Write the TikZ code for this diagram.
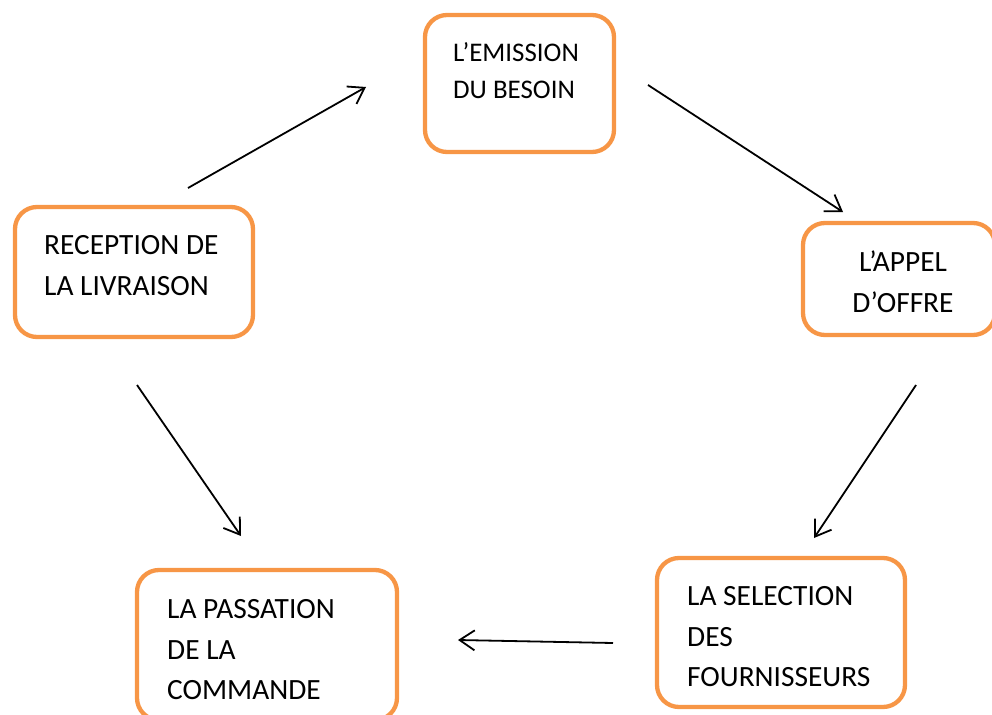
\documentclass[tikz,border=0pt]{standalone}
\usepackage{fontspec}
\setmainfont{Carlito}
\usetikzlibrary{arrows.meta}
\definecolor{boxorange}{HTML}{F79646}
\tikzset{
  stepbox/.style={draw=boxorange, line width=4.3bp, rounded corners=22bp, fill=white, inner sep=0pt},
  boxtext/.style={inner sep=0pt, font=\fontsize{29.5}{41}\selectfont},
  smalltext/.style={inner sep=0pt, font=\fontsize{27}{37.5}\selectfont},
  flow/.style={draw=black, line width=1.8bp, -{Straight Barb[length=15bp,width=20bp,line width=1.8bp]}}
}
\begin{document}
\begin{tikzpicture}[x=1bp,y=-1bp]
\useasboundingbox (0,0) rectangle (992,715);
% boxes
\node[stepbox, minimum width=189bp, minimum height=137bp] (b1) at (519.5,83.5) {};
\node[stepbox, minimum width=238bp, minimum height=130bp] (b2) at (134,272) {};
\node[stepbox, minimum width=192bp, minimum height=112bp] (b3) at (899,279) {};
\node[stepbox, minimum width=260bp, minimum height=150bp] (b4) at (267,645) {};
\node[stepbox, minimum width=248bp, minimum height=149bp] (b5) at (781,632.5) {};
% texts
\node[smalltext, anchor=north west, align=left] (t1) at (453,42) {L’EMISSION\\DU BESOIN};
\node[boxtext, anchor=north west, align=left] (t2) at (44,235) {RECEPTION DE\\LA LIVRAISON};
\node[boxtext, anchor=north, align=center] (t3) at (903,251) {L’APPEL\\D’OFFRE};
\node[boxtext, anchor=north west, align=left] (t4) at (167,599) {LA PASSATION\\DE LA\\COMMANDE};
\node[boxtext, anchor=north west, align=left] (t5) at (687,586) {LA SELECTION\\DES\\FOURNISSEURS};
% arrow ends
\coordinate (a1s) at (188,188); \coordinate (a1e) at (366,87);
\coordinate (a2s) at (648,85);  \coordinate (a2e) at (843,212);
\coordinate (a3s) at (916,385); \coordinate (a3e) at (814,538);
\coordinate (a4s) at (613,643); \coordinate (a4e) at (458,640);
\coordinate (a5s) at (137,385); \coordinate (a5e) at (241,536);
\draw[flow] (a1s) -- (a1e);
\draw[flow] (a2s) -- (a2e);
\draw[flow] (a3s) -- (a3e);
\draw[flow] (a4s) -- (a4e);
\draw[flow] (a5s) -- (a5e);
\end{tikzpicture}
\end{document}
